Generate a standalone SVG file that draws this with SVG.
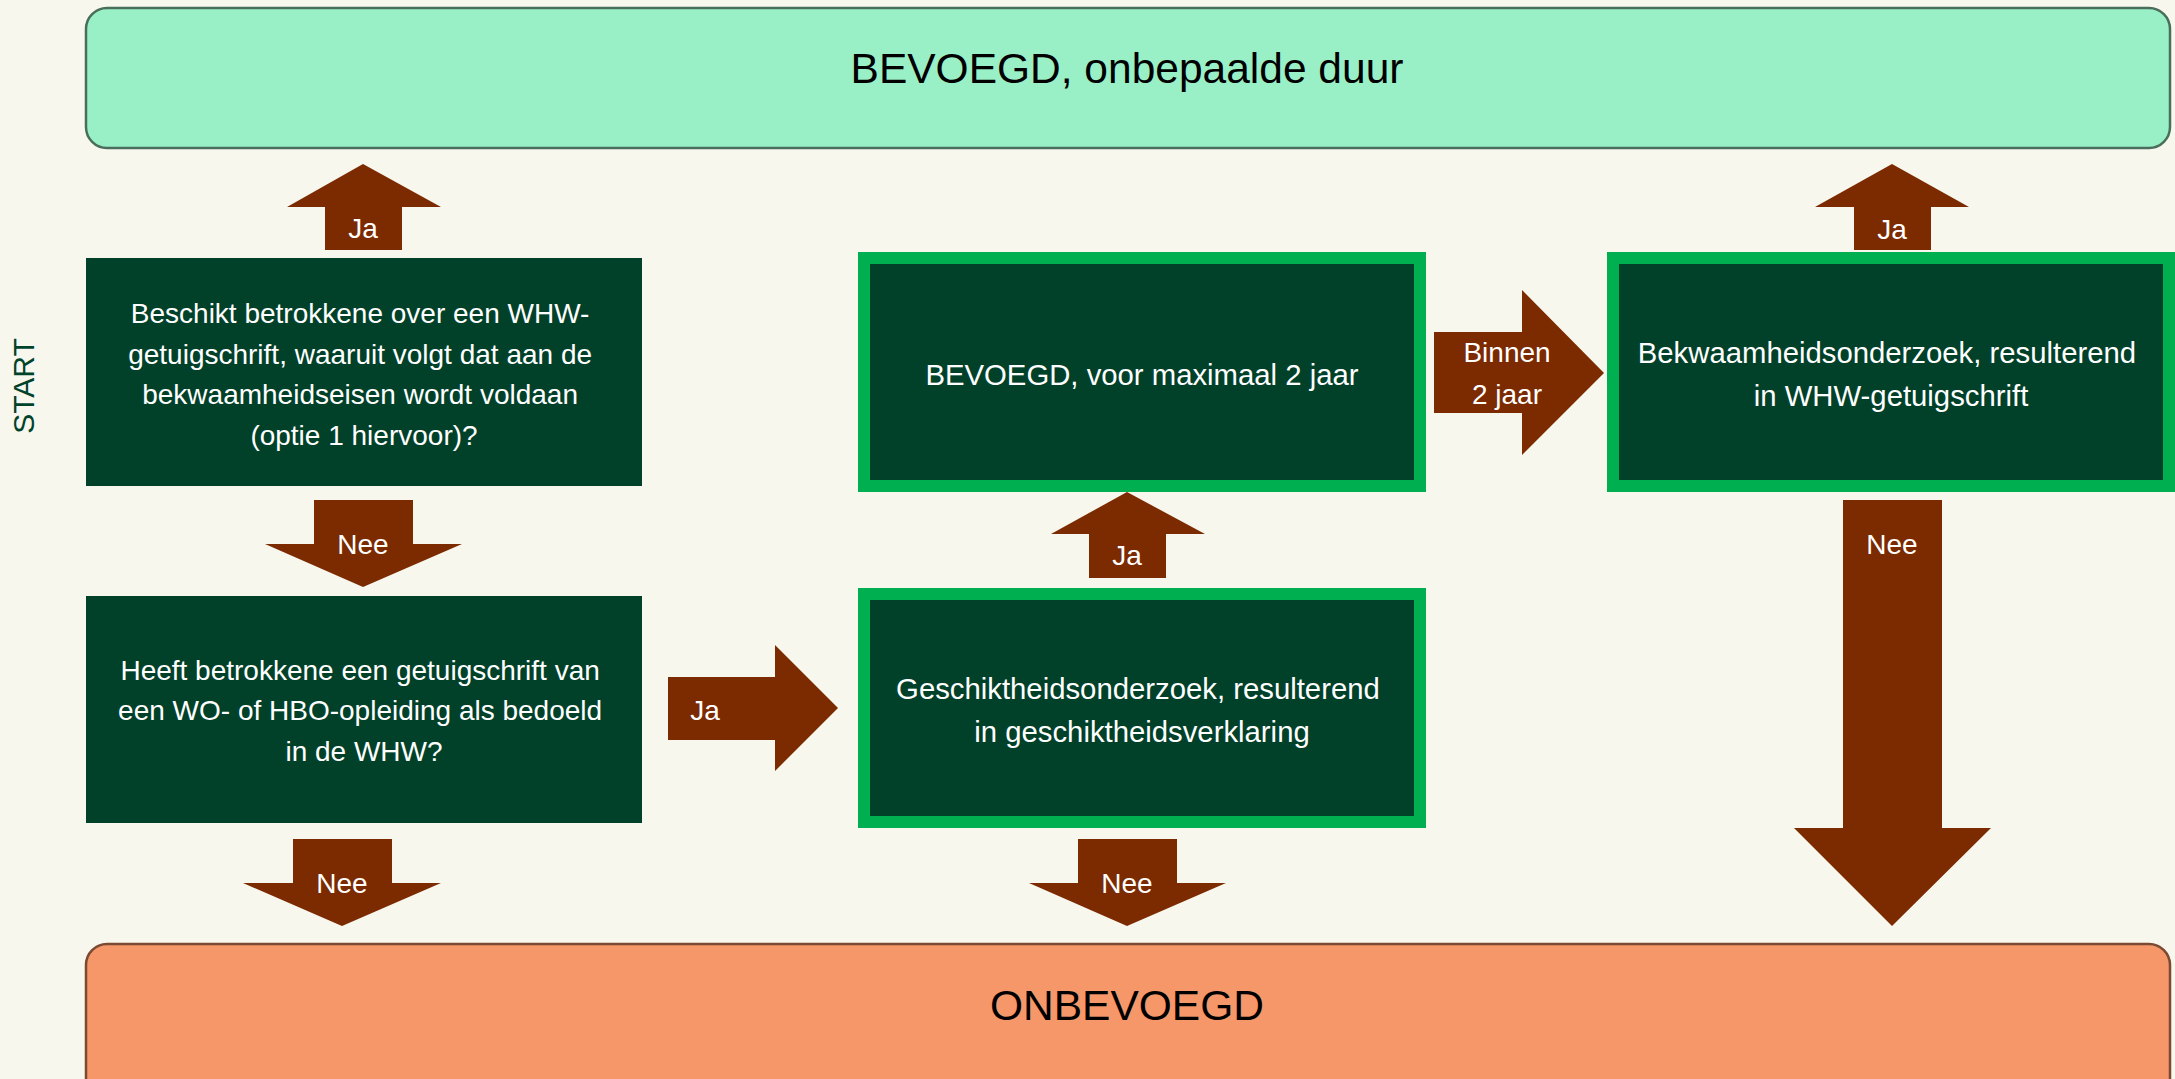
<svg xmlns="http://www.w3.org/2000/svg" width="2175" height="1079" viewBox="0 0 2175 1079">
<style>
.bg{fill:#F8F7EE}
.box{fill:#01412A}
.gbox{fill:#01412A;stroke:#00B050;stroke-width:12}
.arr{fill:#7C2A00}
.t{font-family:"Liberation Sans",Arial,sans-serif;fill:#FFFFFF;text-anchor:middle}
.s28{font-size:28px}
.s29{font-size:29.3px}
.big{font-family:"Liberation Sans",Arial,sans-serif;font-size:42.5px;fill:#000000;text-anchor:middle}
.lbl{font-family:"Liberation Sans",Arial,sans-serif;font-size:28px;fill:#FFFFFF;text-anchor:middle}
</style>
<rect class="bg" x="0" y="0" width="2175" height="1079"/>

<g id="start">
<text transform="translate(34,386) rotate(-90)" style="font-family:'Liberation Sans',Arial,sans-serif;font-size:30px;fill:#00432B;text-anchor:middle">START</text>
</g>

<g id="bevoegd-onbepaald">
<rect x="86" y="8" width="2084" height="140" rx="21" fill="#99F0C6" stroke="#4A6E5C" stroke-width="2.5"/>
<text class="big" x="1127" y="83">BEVOEGD, onbepaalde duur</text>
</g>

<g id="onbevoegd">
<rect x="86" y="944" width="2084" height="170" rx="21" fill="#F6976A" stroke="#7A4A32" stroke-width="2.5"/>
<text class="big" x="1127" y="1020">ONBEVOEGD</text>
</g>

<g id="vraag1">
<rect class="box" x="86" y="258" width="556" height="228"/>
<text class="t s28" x="364">
<tspan x="364" y="323">Beschikt betrokkene over een WHW-</tspan>
<tspan x="364" y="363.5">getuigschrift, waaruit volgt dat aan de</tspan>
<tspan x="364" y="404">bekwaamheidseisen wordt voldaan</tspan>
<tspan x="364" y="444.5">(optie 1 hiervoor)?</tspan>
</text>
</g>

<g id="vraag2">
<rect class="box" x="86" y="596" width="556" height="227"/>
<text class="t s28" x="364">
<tspan x="364" y="679.5">Heeft betrokkene een getuigschrift van</tspan>
<tspan x="364" y="720">een WO- of HBO-opleiding als bedoeld</tspan>
<tspan x="364" y="760.5">in de WHW?</tspan>
</text>
</g>

<g id="bevoegd-2jaar">
<rect class="gbox" x="864" y="258" width="556" height="228"/>
<text class="t s29" x="1142" y="385">BEVOEGD, voor maximaal 2 jaar</text>
</g>

<g id="geschiktheidsonderzoek">
<rect class="gbox" x="864" y="594" width="556" height="228"/>
<text class="t s29" x="1142">
<tspan x="1142" y="699">Geschiktheidsonderzoek, resulterend</tspan>
<tspan x="1142" y="741.5">in geschiktheidsverklaring</tspan>
</text>
</g>

<g id="bekwaamheidsonderzoek">
<rect class="gbox" x="1613" y="258" width="556" height="228"/>
<text class="t s29" x="1891">
<tspan x="1891" y="363">Bekwaamheidsonderzoek, resulterend</tspan>
<tspan x="1891" y="405.5">in WHW-getuigschrift</tspan>
</text>
</g>

<g id="connectors">
<polygon class="arr" points="325,250 325,207 287,207 363,164 441,207 402,207 402,250"/>
<text class="lbl" x="363" y="238">Ja</text>

<polygon class="arr" points="314,500 413,500 413,544 462,544 363,587 265,544 314,544"/>
<text class="lbl" x="363" y="554">Nee</text>

<polygon class="arr" points="668,677 775,677 775,645 838,708 775,771 775,740 668,740"/>
<text class="lbl" x="705" y="720">Ja</text>

<polygon class="arr" points="293,839 392,839 392,883 441,883 342,926 243,883 293,883"/>
<text class="lbl" x="342" y="893">Nee</text>

<polygon class="arr" points="1089,578 1089,534 1051,534 1127,492 1205,534 1166,534 1166,578"/>
<text class="lbl" x="1127" y="565">Ja</text>

<polygon class="arr" points="1434,332 1522,332 1522,290 1604,373 1522,455 1522,413 1434,413"/>
<text class="lbl" x="1507" y="362">Binnen</text>
<text class="lbl" x="1507" y="404">2 jaar</text>

<polygon class="arr" points="1078,839 1177,839 1177,883 1226,883 1127,926 1029,883 1078,883"/>
<text class="lbl" x="1127" y="893">Nee</text>

<polygon class="arr" points="1854,250 1854,207 1815,207 1892,164 1969,207 1931,207 1931,250"/>
<text class="lbl" x="1892" y="239">Ja</text>

<polygon class="arr" points="1843,500 1942,500 1942,828 1991,828 1892,926 1794,828 1843,828"/>
<text class="lbl" x="1892" y="554">Nee</text>
</g>
</svg>
